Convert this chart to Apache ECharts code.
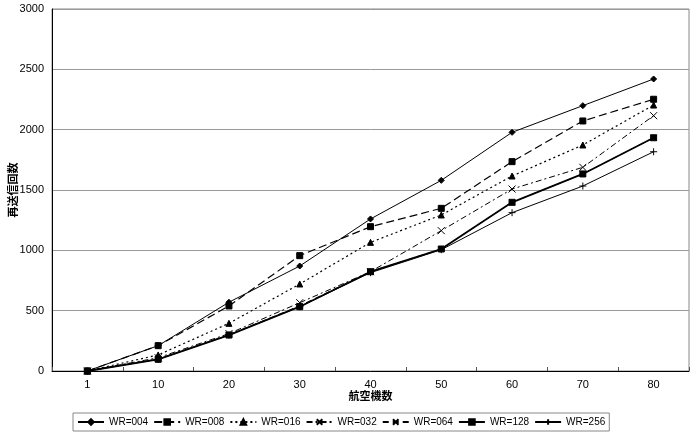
<!DOCTYPE html>
<html><head><meta charset="utf-8">
<script src="https://cdn.jsdelivr.net/npm/echarts@6/dist/echarts.min.js"></script>
<style>html,body{margin:0;padding:0;background:#fff}#c{width:700px;height:435px}</style>
</head><body><div id="c"></div>
<script>
const categories = ['1','10','20','30','40','50','60','70','80'];
const wr004 = [0, 210, 570, 870, 1260, 1580, 1978, 2199, 2420];
const wr008 = [0, 210, 539, 956, 1196, 1348, 1735, 2072, 2252];
const wr016 = [0, 133, 395, 721, 1066, 1293, 1616, 1873, 2204];
const wr032 = [0, 110, 310, 566, 823, 1163, 1508, 1688, 2116];
const wr064 = [0, 100, 300, 540, 823, 1011, 1398, 1633, 1933];
const wr128 = [0, 97, 298, 533, 823, 1011, 1398, 1633, 1933];
const wr256 = [0, 97, 298, 533, 815, 1005, 1312, 1533, 1817];
const seriesNames = ['WR=004','WR=008','WR=016','WR=032','WR=064','WR=128','WR=256'];

const X = 'path://M0,0L10,10M10,0L0,10';
const PLUS = 'path://M5,0L5,10M0,5L10,5';
const defs = [
  {data: wr004, symbol: 'diamond', size: 6, type: 'solid', width: 1},
  {data: wr008, symbol: 'rect', size: 6, type: [8,4], width: 1.2},
  {data: wr016, symbol: 'triangle', size: 6, type: [2,3], width: 1.2},
  {data: wr032, symbol: X, size: 7, type: [6,3,2,3], width: 1},
  {data: wr064, symbol: X, size: 6, type: [6,4], width: 1},
  {data: wr128, symbol: 'rect', size: 6, type: 'solid', width: 1.8},
  {data: wr256, symbol: PLUS, size: 7, type: 'solid', width: 1}
];
const font = '"Liberation Sans", Arial, sans-serif';
const cjk = '"Noto Sans CJK JP", sans-serif';
const chart = echarts.init(document.getElementById('c'));
chart.setOption({
  animation: false,
  backgroundColor: '#fff',
  grid: {left: 52, right: 11, top: 9, bottom: 64, show: true, borderColor: '#888', borderWidth: 1,
         containLabel: false, outerBoundsMode: 'none'},
  xAxis: {
    type: 'category', data: categories, boundaryGap: true,
    name: '航空機数', nameLocation: 'middle', nameGap: 19, nameMoveOverlap: false,
    nameTextStyle: {fontFamily: cjk, fontSize: 11, fontWeight: 'bold', color: '#000'},
    axisLine: {lineStyle: {color: '#000', width: 1}},
    axisTick: {show: true, inside: true, length: 4, lineStyle: {color: '#555'}},
    axisLabel: {fontFamily: font, fontSize: 11, color: '#000', margin: 8}
  },
  yAxis: {
    type: 'value', min: 0, max: 3000, interval: 500,
    name: '再送信回数', nameLocation: 'middle', nameGap: 34, nameRotate: 90, nameMoveOverlap: false,
    nameTextStyle: {fontFamily: cjk, fontSize: 11, fontWeight: 'bold', color: '#000'},
    axisLine: {show: true, lineStyle: {color: '#000', width: 1}},
    axisTick: {show: false},
    axisLabel: {fontFamily: font, fontSize: 11, color: '#000', margin: 8, formatter: v => String(v)},
    splitLine: {show: true, lineStyle: {color: '#999', width: 1}}
  },
  legend: {
    data: seriesNames, left: 73, bottom: 4, orient: 'horizontal',
    itemWidth: 26, itemHeight: 7, itemGap: 5,
    padding: [4, 4, 4, 4],
    borderColor: '#888', borderWidth: 1,
    textStyle: {fontFamily: font, fontSize: 10, color: '#000'}
  },
  series: defs.map((d, i) => ({
    name: seriesNames[i], type: 'line', data: d.data,
    symbol: d.symbol, symbolSize: d.size, showSymbol: true,
    lineStyle: {color: '#000', width: d.width, type: d.type},
    itemStyle: {color: '#000', borderColor: '#000', borderWidth: 1},
    z: 10 - i
  }))
});
</script></body></html>
